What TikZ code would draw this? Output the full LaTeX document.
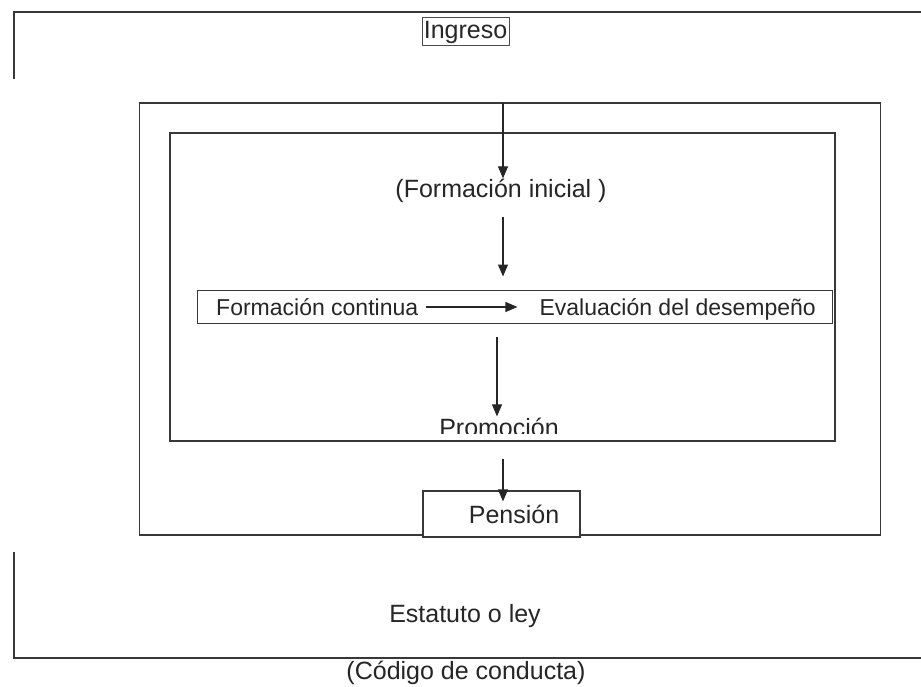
\documentclass[tikz,border=0pt]{standalone}
\usepackage{fontspec}
\setmainfont{Liberation Sans}
\usetikzlibrary{arrows.meta}
\begin{document}
\begin{tikzpicture}[x=1pt,y=-1pt,
  line/.style={draw=black!78, line width=1.2pt},
  arr/.style={draw=black!85, line width=1.2pt, -{Triangle[length=12pt,width=10pt]}},
  lbl/.style={font=\fontsize{25}{29}\selectfont, text=black!85, inner sep=0pt},
  rowlbl/.style={font=\fontsize{23}{27}\selectfont, text=black!85, inner sep=0pt},
  frame/.style={line, fill=none, inner sep=0pt},
]
\useasboundingbox[fill=white] (0,0) rectangle (921,687);
% outer partial frame
\coordinate (ftl) at (14,12);
\coordinate (ftr) at (921,12);
\coordinate (ftb) at (14,79);
\coordinate (fbl) at (14,658);
\coordinate (fbr) at (921,658);
\coordinate (fbt) at (14,552);
\draw[line] (ftb) -- (ftl) -- (ftr);
\draw[line] (fbt) -- (fbl) -- (fbr);
% boxes
\node[frame, minimum width=741pt, minimum height=432pt] (box2) at (510,319) {};
\node[frame, minimum width=665pt, minimum height=308pt] (box3) at (502.5,287) {};
% Ingreso
\node[frame, draw=black!70, line width=0.9pt, minimum width=87pt, minimum height=28pt] (ingb) at (465.5,31) {};
\node[lbl, anchor=base] (ing) at (465.5,39) {Ingreso};
% Formacion inicial
\node[lbl, anchor=base] (fi) at (501,198) {(Formación inicial )};
% row box
\node[frame, minimum width=635pt, minimum height=33pt, line width=1pt] (row) at (514.5,306.5) {};
\node[rowlbl, anchor=base west] (fc) at (216,315) {Formación continua};
\node[rowlbl, anchor=base east] (ed) at (816,315) {Evaluación del desempeño};
\coordinate (rs) at ([xshift=8pt]fc.east |- 0,307);
\coordinate (re) at ([xshift=-22pt]ed.west |- 0,307);
% Promocion (clipped by box line)
\begin{scope}
\clip (300,400) rectangle (700,433);
\node[lbl, anchor=base] (pr) at (499,436) {Promoción};
\end{scope}
% Pension
\node[frame, fill=white, minimum width=157pt, minimum height=46pt] (pen) at (501.5,514) {};
\node[lbl, anchor=base] (pent) at (514,523) {Pensión};
% bottom labels
\node[lbl, anchor=base] (est) at (465,622) {Estatuto o ley};
\node[lbl, anchor=base] (cod) at (466,679) {(Código de conducta)};
% arrows
\coordinate (a1) at (503,103);
\coordinate (a2) at (503,217);
\coordinate (a3) at (497,337);
\coordinate (a4) at (503,459);
\draw[arr] (a1) -- ([yshift=1pt]a1 |- fi.north);
\draw[arr] (a2) -- ([yshift=13pt]a2 |- row.north);
\draw[arr] (rs) -- (re);
\draw[arr] (a3) -- ([yshift=1pt]a3 |- pr.north);
\draw[arr] (a4) -- ([yshift=-11pt]a4 |- pen.north);
\end{tikzpicture}
\end{document}
